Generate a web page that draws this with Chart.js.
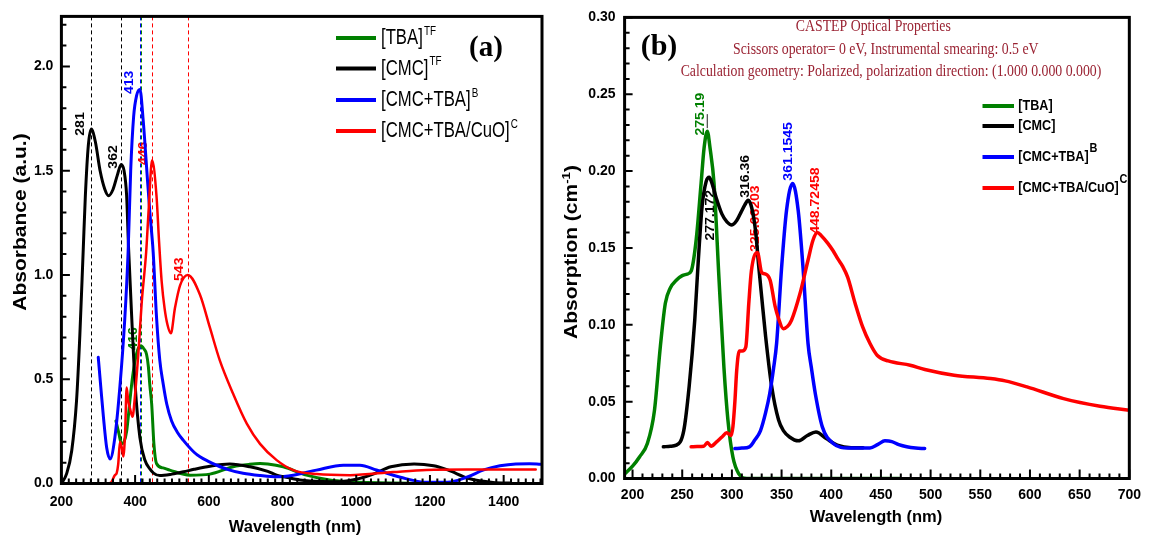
<!DOCTYPE html>
<html>
<head>
<meta charset="utf-8">
<title>Absorbance and absorption spectra</title>
<script src="https://cdn.jsdelivr.net/npm/chart.js@4.4.1/dist/chart.umd.min.js"></script>
<style>
  html, body { margin: 0; padding: 0; background: #fff; }
  #fig { position: relative; width: 1149px; height: 541px; overflow: hidden; background: #fff; }
  #fig canvas { position: absolute; top: 0; }
  #specA { left: 0; }
  #specB { left: 560px; }
</style>
</head>
<body>
<div id="fig">
  <canvas id="specA" width="560" height="541"></canvas>
  <canvas id="specB" width="589" height="541"></canvas>
</div>
<script>
// ---- tick labels ----
const A_X_TICKS = [200, 400, 600, 800, 1000, 1200, 1400];
const A_Y_TICKS = [0, 0.5, 1.0, 1.5, 2.0];
const B_X_TICKS = [200, 250, 300, 350, 400, 450, 500, 550, 600, 650, 700];
const B_Y_TICKS = [0, 0.05, 0.10, 0.15, 0.20, 0.25, 0.30];

// ---- (a) measured UV-vis absorbance, wavelength in nm ----
const A_TBA_NM = [348, 356, 363, 370, 377, 386, 393, 400, 409, 416, 424, 431, 436, 440, 445, 451, 458, 476, 494, 549, 603, 666, 710, 739, 760, 802, 865, 928, 983, 1100, 1200, 1270];
const A_TBA = [0.30, 0.24, 0.19, 0.20, 0.25, 0.40, 0.51, 0.59, 0.65, 0.66, 0.645, 0.62, 0.56, 0.47, 0.38, 0.19, 0.096, 0.075, 0.064, 0.04, 0.045, 0.08, 0.092, 0.096, 0.094, 0.08, 0.04, 0.017, 0.009, 0.002, 0.0, 0.0];

const A_CMC_NM = [200, 214, 228, 241, 250, 259, 265, 273, 281, 292, 305, 318, 328, 340, 352, 362, 370, 377, 382, 391, 400, 413, 427, 440, 450, 467, 500, 531, 560, 603, 657, 712, 760, 784, 810, 847, 910, 954, 1000, 1046, 1094, 1157, 1210, 1248, 1306, 1371, 1420];
const A_CMC = [0.0, 0.046, 0.157, 0.395, 0.71, 1.11, 1.38, 1.62, 1.70, 1.64, 1.50, 1.41, 1.38, 1.41, 1.48, 1.53, 1.50, 1.38, 1.14, 0.79, 0.475, 0.22, 0.11, 0.07, 0.05, 0.038, 0.045, 0.056, 0.068, 0.083, 0.093, 0.08, 0.058, 0.04, 0.03, 0.017, 0.009, 0.008, 0.02, 0.045, 0.080, 0.094, 0.085, 0.065, 0.024, 0.005, 0.002];

const A_MIX_NM = [300, 307, 314, 323, 332, 345, 359, 372, 381, 388, 396, 404, 413, 422, 431, 440, 449, 458, 467, 476, 486, 499, 515, 531, 560, 576, 600, 621, 650, 693, 740, 784, 829, 892, 965, 1010, 1055, 1120, 1190, 1248, 1300, 1346, 1390, 1433, 1470, 1500];
const A_MIX = [0.605, 0.46, 0.32, 0.17, 0.118, 0.22, 0.47, 0.79, 1.11, 1.50, 1.76, 1.86, 1.89, 1.74, 1.52, 1.30, 1.11, 0.80, 0.59, 0.48, 0.38, 0.30, 0.245, 0.207, 0.15, 0.128, 0.105, 0.088, 0.068, 0.049, 0.038, 0.032, 0.04, 0.064, 0.088, 0.088, 0.065, 0.03, 0.006, 0.006, 0.03, 0.065, 0.085, 0.094, 0.095, 0.092];

const A_CUO_NM = [314, 325, 335, 345, 350, 354, 359, 364, 368, 373, 377, 381, 386, 393, 400, 409, 418, 430, 437, 446, 458, 465, 472, 480, 488, 497, 508, 522, 543, 576, 603, 630, 666, 703, 739, 784, 829, 893, 983, 1100, 1190, 1300, 1400, 1487];
const A_CUO = [0.0, 0.0, 0.005, 0.04, 0.05, 0.09, 0.2, 0.17, 0.13, 0.25, 0.46, 0.40, 0.36, 0.32, 0.43, 0.63, 0.87, 1.11, 1.32, 1.55, 1.38, 1.16, 0.97, 0.84, 0.76, 0.72, 0.84, 0.95, 1.0, 0.905, 0.747, 0.589, 0.43, 0.287, 0.19, 0.112, 0.064, 0.045, 0.04, 0.055, 0.065, 0.067, 0.067, 0.067];

// band maxima (dashed markers + labels)
const A_PEAK_NM = [281, 362, 413, 416, 446, 543];
const A_PEAK_ABS = [1.70, 1.53, 1.89, 0.66, 1.55, 1.00];
const A_PEAK_TEXT = ['281', '362', '413', '416', '446', '543'];

// ---- (b) CASTEP absorption, wavelength in nm ----
const B_TBA_NM = [192, 200, 207, 215, 222, 228, 233, 238, 244, 250, 255, 259, 264, 269, 272, 275.19, 278, 282, 287, 292, 296, 301, 307, 315, 330, 360, 400, 440, 470];
const B_TBA = [0.003, 0.008, 0.014, 0.023, 0.044, 0.086, 0.114, 0.124, 0.129, 0.132, 0.133, 0.135, 0.155, 0.192, 0.215, 0.226, 0.215, 0.192, 0.130, 0.072, 0.038, 0.014, 0.003, 0.0, 0.0, 0.0, 0.0, 0.0, 0.0];

const B_CMC_NM = [231, 238, 244, 251.5, 257, 262.6, 266, 270, 274, 277.172, 280, 284, 290, 295, 300, 305, 309, 313, 316.36, 320, 324, 327, 330, 334, 340, 347, 352, 358, 367, 376, 384.6, 395, 406, 420, 432];
const B_CMC = [0.0206, 0.021, 0.0217, 0.031, 0.06, 0.103, 0.14, 0.177, 0.193, 0.196, 0.192, 0.183, 0.172, 0.167, 0.165, 0.168, 0.173, 0.178, 0.181, 0.176, 0.160, 0.138, 0.118, 0.092, 0.06, 0.038, 0.031, 0.027, 0.0245, 0.028, 0.0303, 0.026, 0.0217, 0.020, 0.020];

const B_MIX_NM = [303, 310, 317.6, 323, 328.7, 334, 338, 342, 345, 350, 355, 361.1545, 366.7, 371.6, 376.6, 380, 384, 391, 402, 417, 439, 447, 454, 461, 468, 476, 485, 494];
const B_MIX = [0.0195, 0.0198, 0.0206, 0.025, 0.031, 0.043, 0.055, 0.072, 0.088, 0.137, 0.1745, 0.192, 0.1745, 0.137, 0.088, 0.072, 0.055, 0.0336, 0.0228, 0.0199, 0.0199, 0.0222, 0.0245, 0.024, 0.022, 0.0206, 0.0198, 0.0195];

const B_CUO_NM = [259, 265, 271.7, 275.4, 279, 284.6, 290, 294.8, 299.3, 301, 303, 304.8, 307.4, 310.3, 314, 317, 319.6, 325.66203, 330, 334, 338.5, 343.5, 347, 351.7, 356, 360, 368.4, 376.6, 381.6, 386, 390, 396.6, 402, 406.5, 411.5, 416.5, 424, 431.6, 439, 446.4, 457.4, 479.4, 494.2, 523.6, 560.3, 575, 597, 633.8, 670.6, 700];
const B_CUO = [0.0206, 0.0208, 0.021, 0.0234, 0.021, 0.0238, 0.027, 0.0297, 0.028, 0.0336, 0.05, 0.070, 0.083, 0.083, 0.0856, 0.114, 0.135, 0.147, 0.134, 0.133, 0.129, 0.112, 0.104, 0.0975, 0.099, 0.103, 0.120, 0.142, 0.155, 0.160, 0.158, 0.153, 0.148, 0.143, 0.138, 0.131, 0.114, 0.0986, 0.0878, 0.080, 0.0765, 0.0737, 0.0709, 0.0672, 0.065, 0.0635, 0.0596, 0.052, 0.047, 0.0444];

const B_PEAK_NM = [275.19, 277.172, 316.36, 325.66203, 361.1545, 386];
const B_PEAK_ABS = [0.226, 0.196, 0.181, 0.147, 0.192, 0.160];
const B_PEAK_TEXT = ['275.19', '277.172', '316.36', '325.66203', '361.1545', '448.72458'];

// ---- styling ----
const FONT = "'Liberation Sans', Arial, Helvetica, sans-serif";
const SERIF = "'Liberation Serif', 'Times New Roman', serif";
const GREEN = '#008000', BLUE = '#0000ff', RED = '#ff0000', BLACK = '#000000';
const MAROON = '#9a2232';
const TICK_FONT = {family: FONT, size: 14, weight: 'bold'};

function pts(xs, ys) {
  return xs.map((x, i) => ({x: x, y: ys[i]}));
}

function series(label, xs, ys, color, width, order) {
  return {
    label: label,
    data: pts(xs, ys),
    borderColor: color,
    backgroundColor: color,
    borderWidth: width,
    pointRadius: 0,
    pointHoverRadius: 0,
    fill: false,
    cubicInterpolationMode: 'monotone',
    borderJoinStyle: 'round',
    borderCapStyle: 'round',
    order: order
  };
}

function xAxis(min, max, ticks, height, pad) {
  return {
    type: 'linear', min: min, max: max,
    afterBuildTicks: s => { s.ticks = ticks.map(v => ({value: v})); },
    afterFit: s => { s.height = height; },
    grid: {display: false, drawTicks: false},
    border: {display: false},
    ticks: {color: '#000', font: TICK_FONT, padding: pad, maxRotation: 0, autoSkip: false,
            callback: v => String(v)}
  };
}

function yAxis(min, max, ticks, width, pad, digits) {
  return {
    type: 'linear', min: min, max: max,
    afterBuildTicks: s => { s.ticks = ticks.map(v => ({value: v})); },
    afterFit: s => { s.width = width; },
    grid: {display: false, drawTicks: false},
    border: {display: false},
    ticks: {color: '#000', font: TICK_FONT, padding: pad, autoSkip: false,
            callback: v => Number(v).toFixed(digits)}
  };
}

// text runs (for superscripts), optionally rotated and stretched along the baseline
function runs(ctx, parts, x, y, opt) {
  opt = opt || {};
  ctx.save();
  ctx.translate(x, y);
  if (opt.rot) ctx.rotate(opt.rot);
  ctx.scale(opt.sx || 1, 1);
  ctx.textBaseline = 'middle';
  ctx.textAlign = 'left';
  const widths = parts.map(p => { ctx.font = p.font; return ctx.measureText(p.t).width; });
  const total = widths.reduce((s, w) => s + w, 0) + parts.reduce((s, p) => s + (p.gap || 0), 0);
  let cx = opt.align === 'left' ? 0 : -total / 2;
  parts.forEach((p, i) => {
    cx += p.gap || 0;
    ctx.font = p.font;
    ctx.fillStyle = p.color || '#000';
    ctx.fillText(p.t, cx, -(p.rise || 0));
    cx += widths[i];
  });
  ctx.restore();
}

function tickRow(ctx, sc, a, t, horizontal) {
  const n = Math.round((t.to - t.from) / t.step);
  for (let i = 0; i <= n; i++) {
    const v = t.from + i * t.step;
    const major = t.major.some(m => Math.abs(m - v) < t.step / 4);
    const len = major ? t.majorLen : t.minorLen;
    const p = sc.getPixelForValue(v);
    if (horizontal) {
      ctx.moveTo(p, a.bottom);
      ctx.lineTo(p, a.bottom - len);
    } else {
      ctx.moveTo(a.left, p);
      ctx.lineTo(a.left + len, p);
    }
  }
}

// frame, inward ticks, dashed band markers, peak labels, legend and captions
function makeDecor(cfg) {
  return {
    id: 'decor',
    beforeDatasetsDraw(chart) {
      const {ctx, chartArea: a, scales: {x, y}} = chart;
      const p = cfg.peaks;
      ctx.save();
      if (cfg.dashed) {
        ctx.lineWidth = 1;
        ctx.setLineDash([4, 3]);
        p.nm.forEach((v, i) => {
          const px = Math.round(x.getPixelForValue(v)) + 0.5;
          ctx.strokeStyle = p.colors[i];
          ctx.beginPath();
          ctx.moveTo(px, a.top);
          ctx.lineTo(px, a.bottom);
          ctx.stroke();
        });
        ctx.setLineDash([]);
      }
      p.nm.forEach((v, i) => {
        const px = x.getPixelForValue(v) + p.offsets[i][0];
        const py = y.getPixelForValue(p.val[i]) + p.offsets[i][1];
        runs(ctx, [{t: p.text[i], font: p.font, color: p.colors[i]}], px, py,
             {rot: -Math.PI / 2, sx: p.sx});
      });
      if (cfg.leader) {
        const l = cfg.leader;
        const lx = x.getPixelForValue(p.nm[l.index]);
        const ly = y.getPixelForValue(p.val[l.index]);
        ctx.strokeStyle = l.color;
        ctx.lineWidth = 1;
        ctx.beginPath();
        ctx.moveTo(lx, ly - l.from);
        ctx.lineTo(lx, ly - l.to);
        ctx.stroke();
      }
      ctx.restore();
    },
    afterDatasetsDraw(chart) {
      const {ctx, chartArea: a, scales: {x, y}} = chart;
      ctx.save();
      // inward ticks
      ctx.strokeStyle = '#000';
      ctx.lineWidth = cfg.ticks.width;
      ctx.beginPath();
      tickRow(ctx, x, a, cfg.ticks.x, true);
      tickRow(ctx, y, a, cfg.ticks.y, false);
      ctx.stroke();
      // plot frame
      ctx.lineWidth = cfg.frame;
      ctx.strokeRect(a.left, a.top, a.right - a.left, a.bottom - a.top);

      // legend
      const L = cfg.legend;
      chart.data.datasets.forEach((ds, i) => {
        const ry = L.rows[i];
        ctx.strokeStyle = ds.borderColor;
        ctx.lineWidth = L.width;
        ctx.lineCap = 'butt';
        ctx.beginPath();
        ctx.moveTo(L.x0, ry);
        ctx.lineTo(L.x1, ry);
        ctx.stroke();
        const parts = [{t: ds.label, font: L.font}];
        if (L.sups[i]) parts.push({t: L.sups[i], font: L.supFont, rise: L.rise, gap: L.gap});
        runs(ctx, parts, L.tx, ry + (L.dy || 0), {align: 'left', sx: L.sx});
      });

      // captions and axis titles
      cfg.texts.forEach(t => runs(ctx, t.parts, t.x, t.y, {rot: t.rot, sx: t.sx}));
      ctx.restore();
    }
  };
}

const A_DECOR = {
  dashed: true,
  frame: 3,
  peaks: {
    nm: A_PEAK_NM, val: A_PEAK_ABS, text: A_PEAK_TEXT,
    colors: [BLACK, BLACK, BLUE, GREEN, RED, RED],
    offsets: [[-11.3, -5], [-7.5, -7.5], [-10, -7], [-7.7, -7], [-9, -7], [-8.3, -5.7]],
    font: 'bold 13px ' + FONT, sx: 1.08
  },
  ticks: {
    width: 2,
    x: {from: 200, to: 1500, step: 20, major: A_X_TICKS, majorLen: 8.5, minorLen: 5},
    y: {from: 0, to: 2.2, step: 0.1, major: A_Y_TICKS, majorLen: 8.5, minorLen: 5}
  },
  legend: {
    x0: 336, x1: 376, tx: 381, rows: [38, 68.5, 100, 131], width: 4, sx: 0.76,
    font: '22px ' + FONT, supFont: '13px ' + FONT, rise: 7, gap: 1.5,
    sups: ['TF', 'TF', 'B', 'C']
  },
  texts: [
    {parts: [{t: '(a)', font: 'bold 29px ' + SERIF}], x: 486, y: 49},
    {parts: [{t: 'Absorbance (a.u.)', font: 'bold 17.5px ' + FONT}], x: 21, y: 222, rot: -Math.PI / 2, sx: 1.2},
    {parts: [{t: 'Wavelength (nm)', font: 'bold 16.5px ' + FONT}], x: 295, y: 527}
  ]
};

const B_DECOR = {
  dashed: false,
  frame: 3,
  peaks: {
    nm: B_PEAK_NM, val: B_PEAK_ABS, text: B_PEAK_TEXT,
    colors: [GREEN, BLACK, BLACK, RED, BLUE, RED],
    offsets: [[-7.2, -17], [1, 38], [-3, -24], [-2, -34], [-4, -32], [-2, -32]],
    font: 'bold 13px ' + FONT, sx: 1.08
  },
  leader: {index: 0, from: 3, to: 17, color: '#222'},
  ticks: {
    width: 2,
    x: {from: 200, to: 700, step: 10, major: B_X_TICKS, majorLen: 9, minorLen: 5},
    y: {from: 0, to: 0.30, step: 0.01, major: B_Y_TICKS, majorLen: 8, minorLen: 5}
  },
  legend: {
    x0: 422.5, x1: 454, tx: 458.3, rows: [106, 126, 157, 188], width: 4, sx: 0.84,
    font: 'bold 15px ' + FONT, supFont: 'bold 13px ' + FONT, rise: 9, gap: 1,
    sups: ['', '', 'B', 'C']
  },
  texts: [
    {parts: [{t: '(b)', font: 'bold 30px ' + SERIF}], x: 99, y: 47},
    {parts: [{t: 'CASTEP Optical Properties', font: '16.5px ' + SERIF, color: MAROON}], x: 313.3, y: 26.7, sx: 0.837},
    {parts: [{t: 'Scissors operator= 0 eV, Instrumental smearing: 0.5 eV', font: '16.5px ' + SERIF, color: MAROON}], x: 325.8, y: 50, sx: 0.837},
    {parts: [{t: 'Calculation geometry: Polarized, polarization direction: (1.000 0.000 0.000)', font: '16.5px ' + SERIF, color: MAROON}], x: 331, y: 71.7, sx: 0.837},
    {parts: [
      {t: 'Absorption (cm', font: 'bold 17.5px ' + FONT},
      {t: '-1', font: 'bold 11px ' + FONT, rise: 6},
      {t: ')', font: 'bold 17.5px ' + FONT}
    ], x: 12.5, y: 252, rot: -Math.PI / 2, sx: 1.2},
    {parts: [{t: 'Wavelength (nm)', font: 'bold 16.5px ' + FONT}], x: 316, y: 517}
  ]
};

function baseOptions(padding, scales) {
  return {
    responsive: false,
    animation: false,
    devicePixelRatio: 1,
    events: [],
    layout: {padding: padding},
    plugins: {legend: {display: false}, tooltip: {enabled: false}, title: {display: false}},
    scales: scales
  };
}

new Chart(document.getElementById('specA'), {
  type: 'line',
  data: {
    datasets: [
      series('[TBA]', A_TBA_NM, A_TBA, GREEN, 3, 3),
      series('[CMC]', A_CMC_NM, A_CMC, BLACK, 3, 2),
      series('[CMC+TBA]', A_MIX_NM, A_MIX, BLUE, 3, 1),
      series('[CMC+TBA/CuO]', A_CUO_NM, A_CUO, RED, 2.5, 0)
    ]
  },
  options: baseOptions({left: 0, right: 18, top: 13.5, bottom: 0}, {
    x: xAxis(200, 1504, A_X_TICKS, 57.5, 10),
    y: yAxis(0, 2.24, A_Y_TICKS, 61.4, 8, 1)
  }),
  plugins: [makeDecor(A_DECOR)]
});

new Chart(document.getElementById('specB'), {
  type: 'line',
  data: {
    datasets: [
      series('[TBA]', B_TBA_NM, B_TBA, GREEN, 3.5, 3),
      series('[CMC]', B_CMC_NM, B_CMC, BLACK, 3.5, 2),
      series('[CMC+TBA]', B_MIX_NM, B_MIX, BLUE, 3.5, 1),
      series('[CMC+TBA/CuO]', B_CUO_NM, B_CUO, RED, 3.5, 0)
    ]
  },
  options: baseOptions({left: 0, right: 14, top: 16.5, bottom: 0}, {
    x: xAxis(192, 700, B_X_TICKS, 62.5, 8),
    y: yAxis(0, 0.30, B_Y_TICKS, 64.6, 9, 2)
  }),
  plugins: [makeDecor(B_DECOR)]
});
</script>
</body>
</html>
